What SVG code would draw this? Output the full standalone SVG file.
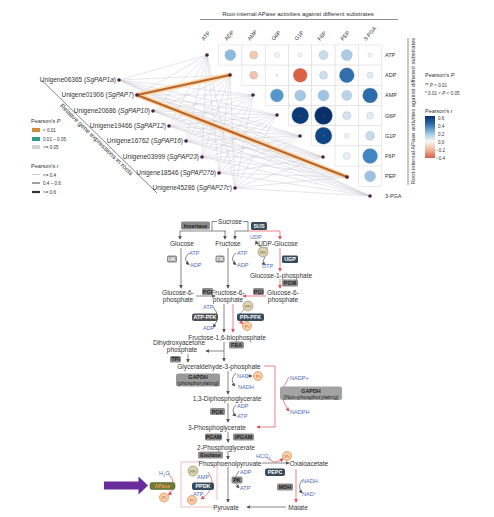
<svg xmlns="http://www.w3.org/2000/svg" width="494" height="517" viewBox="0 0 494 517">
<defs>
<style>
text{font-family:"Liberation Sans",Arial,sans-serif;fill:#333}
.gl{font-size:6.5px}
.ax{font-size:6.5px}
.sm{font-size:5.5px}
.xs{font-size:4.6px}
.cell{fill:#fff;stroke:#d8d8dc;stroke-width:0.5}
.dot{fill:#4a1f45}
.cor{stroke:#9aa6b2;stroke-width:0.3}
.mt{font-size:6.5px;text-anchor:middle;fill:#333}
.cf{font-size:5.6px;fill:#4a6db8}
.bx{fill:#8c8c8c}
.bd{fill:#374b5c}
.bt{font-size:5.4px;font-weight:bold;text-anchor:middle;fill:#222}
.bw{font-size:5.4px;font-weight:bold;text-anchor:middle;fill:#fff}
.g{fill:none;stroke:#555;stroke-width:0.7;marker-end:url(#ag)}
.gn{fill:none;stroke:#555;stroke-width:0.7}
.r{fill:none;stroke:#e0505a;stroke-width:0.7;marker-end:url(#ar)}
.rn{fill:none;stroke:#e0505a;stroke-width:0.7}
.pi{fill:#f8cfa8;stroke:#e08a4a;stroke-width:0.7}
.ppi{fill:#d9d3b2;stroke:#9c9470;stroke-width:0.7}
.pit{font-size:4.4px;text-anchor:middle;fill:#c0602a}
.ppt{font-size:4px;text-anchor:middle;fill:#6d6648}
</style>
<marker id="ag" viewBox="0 0 6 6" refX="5" refY="3" markerWidth="4" markerHeight="4" markerUnits="userSpaceOnUse" orient="auto"><path d="M0,0L6,3L0,6z" fill="#555"/></marker>
<marker id="ar" viewBox="0 0 6 6" refX="5" refY="3" markerWidth="4" markerHeight="4" markerUnits="userSpaceOnUse" orient="auto"><path d="M0,0L6,3L0,6z" fill="#e0505a"/></marker>
<linearGradient id="cbar" x1="0" y1="0" x2="0" y2="1">
<stop offset="0" stop-color="#08306b"/>
<stop offset="0.2" stop-color="#2f6fae"/>
<stop offset="0.42" stop-color="#9ecae1"/>
<stop offset="0.6" stop-color="#f7f7f7"/>
<stop offset="0.8" stop-color="#f4b89c"/>
<stop offset="1" stop-color="#d6604d"/>
</linearGradient>
</defs>
<rect width="494" height="517" fill="#fff"/>

<!-- correlation header -->
<g id="header">
<text x="298" y="16" text-anchor="middle" style="font-size:6px">Root-internal APase activities against different substrates</text>
<line x1="200" y1="19.5" x2="398" y2="19.5" stroke="#444" stroke-width="0.6"/>
<g class="sm">
<text transform="translate(204,41) rotate(-50)">ATP</text>
<text transform="translate(227,41) rotate(-50)">ADP</text>
<text transform="translate(250,41) rotate(-50)">AMP</text>
<text transform="translate(274,41) rotate(-50)">G6P</text>
<text transform="translate(297,41) rotate(-50)">G1P</text>
<text transform="translate(320,41) rotate(-50)">F6P</text>
<text transform="translate(343,41) rotate(-50)">PEP</text>
<text transform="translate(366,41) rotate(-50)">3-PGA</text>
</g>
</g>

<!-- matrix -->
<g id="matrix">
<rect class="cell" x="218.6" y="44.9" width="23.3" height="20.2"/><rect class="cell" x="241.9" y="44.9" width="23.3" height="20.2"/><rect class="cell" x="265.2" y="44.9" width="23.3" height="20.2"/><rect class="cell" x="288.5" y="44.9" width="23.3" height="20.2"/><rect class="cell" x="311.8" y="44.9" width="23.3" height="20.2"/><rect class="cell" x="335.1" y="44.9" width="23.3" height="20.2"/><rect class="cell" x="358.4" y="44.9" width="23.3" height="20.2"/>
<rect class="cell" x="241.9" y="65.1" width="23.3" height="20.2"/><rect class="cell" x="265.2" y="65.1" width="23.3" height="20.2"/><rect class="cell" x="288.5" y="65.1" width="23.3" height="20.2"/><rect class="cell" x="311.8" y="65.1" width="23.3" height="20.2"/><rect class="cell" x="335.1" y="65.1" width="23.3" height="20.2"/><rect class="cell" x="358.4" y="65.1" width="23.3" height="20.2"/>
<rect class="cell" x="265.2" y="85.3" width="23.3" height="20.2"/><rect class="cell" x="288.5" y="85.3" width="23.3" height="20.2"/><rect class="cell" x="311.8" y="85.3" width="23.3" height="20.2"/><rect class="cell" x="335.1" y="85.3" width="23.3" height="20.2"/><rect class="cell" x="358.4" y="85.3" width="23.3" height="20.2"/>
<rect class="cell" x="288.5" y="105.5" width="23.3" height="20.2"/><rect class="cell" x="311.8" y="105.5" width="23.3" height="20.2"/><rect class="cell" x="335.1" y="105.5" width="23.3" height="20.2"/><rect class="cell" x="358.4" y="105.5" width="23.3" height="20.2"/>
<rect class="cell" x="311.8" y="125.7" width="23.3" height="20.2"/><rect class="cell" x="335.1" y="125.7" width="23.3" height="20.2"/><rect class="cell" x="358.4" y="125.7" width="23.3" height="20.2"/>
<rect class="cell" x="335.1" y="145.9" width="23.3" height="20.2"/><rect class="cell" x="358.4" y="145.9" width="23.3" height="20.2"/>
<rect class="cell" x="358.4" y="166.1" width="23.3" height="20.2"/>
<!-- circles -->
<circle class="cor" cx="230.3" cy="55" r="5.5" fill="#8dbbe0"/>
<circle class="cor" cx="253.6" cy="55" r="4" fill="#f6c6ad"/>
<circle class="cor" cx="276.9" cy="55" r="2.5" fill="#f4f4f4"/>
<circle class="cor" cx="300.2" cy="55" r="2" fill="#f4f4f4"/>
<circle class="cor" cx="323.5" cy="55" r="4.5" fill="#cadcee"/>
<circle class="cor" cx="346.8" cy="55" r="5.5" fill="#aecbe6"/>
<circle class="cor" cx="370.1" cy="55" r="2" fill="#eef3f8"/>
<circle class="cor" cx="253.6" cy="75.2" r="4" fill="#f5c4ab"/>
<circle class="cor" cx="276.9" cy="75.2" r="0.8" fill="#ddd"/>
<circle class="cor" cx="300.2" cy="75.2" r="7" fill="#dc6043"/>
<circle class="cor" cx="323.5" cy="75.2" r="4" fill="#cddff0"/>
<circle class="cor" cx="346.8" cy="75.2" r="7.5" fill="#2f6fae"/>
<circle class="cor" cx="370.1" cy="75.2" r="3" fill="#e2ecf5"/>
<circle class="cor" cx="276.9" cy="95.4" r="6.5" fill="#5597cb"/>
<circle class="cor" cx="300.2" cy="95.4" r="5.5" fill="#a5c8e4"/>
<circle class="cor" cx="323.5" cy="95.4" r="5.5" fill="#9fc3e2"/>
<circle class="cor" cx="346.8" cy="95.4" r="5" fill="#b8d3ea"/>
<circle class="cor" cx="370.1" cy="95.4" r="7.5" fill="#2d6cab"/>
<circle class="cor" cx="300.2" cy="115.6" r="8.5" fill="#0c3c78"/>
<circle class="cor" cx="323.5" cy="115.6" r="9" fill="#08306b"/>
<circle class="cor" cx="346.8" cy="115.6" r="4" fill="#d4e3f0"/>
<circle class="cor" cx="370.1" cy="115.6" r="3.5" fill="#e3ecf5"/>
<circle class="cor" cx="323.5" cy="135.8" r="8.5" fill="#0f4786"/>
<circle class="cor" cx="346.8" cy="135.8" r="2.5" fill="#f2f5f8"/>
<circle class="cor" cx="370.1" cy="135.8" r="4.5" fill="#c8dbed"/>
<circle class="cor" cx="346.8" cy="156" r="3.5" fill="#e8eff6"/>
<circle class="cor" cx="370.1" cy="156" r="7.5" fill="#3f86c2"/>
<circle class="cor" cx="370.1" cy="176.2" r="5.5" fill="#9dc1e1"/>
<g style="font-size:4px;fill:#c04040" text-anchor="middle">
<text x="300.2" y="117.5" style="fill:#c04040">**</text>
<text x="323.5" y="117.5" style="fill:#c04040">**</text>
<text x="323.5" y="137.7" style="fill:#c04040">**</text>
<text x="346.8" y="77.1" style="fill:#c04040">*</text>
</g>
<g class="sm">
<text x="385" y="57">ATP</text>
<text x="385" y="77.2">ADP</text>
<text x="385" y="97.4">AMP</text>
<text x="385" y="117.6">G6P</text>
<text x="385" y="137.8">G1P</text>
<text x="385" y="158">F6P</text>
<text x="385" y="178.2">PEP</text>
<text x="385" y="198.4">3-PGA</text>
</g>
</g>

<!-- gene-metabolite connectors -->
<g id="connectors">
<path fill="none" stroke="#c6c8d0" stroke-width="0.45" d="M119 80L207 55M119 80L230 75M119 80L253 95M119 80L277 115M119 80L300 136M119 80L323 157M119 80L347 177M119 80L370 196
M137 95L207 55M137 95L253 95M137 95L277 115M137 95L300 136M137 95L323 157M137 95L370 196
M153 111L207 55M153 111L230 75M153 111L253 95M153 111L277 115M153 111L300 136M153 111L323 157M153 111L347 177M153 111L370 196
M169 126L207 55M169 126L230 75M169 126L253 95M169 126L277 115M169 126L300 136M169 126L323 157M169 126L347 177M169 126L370 196
M186 141L207 55M186 141L230 75M186 141L253 95M186 141L277 115M186 141L300 136M186 141L323 157M186 141L347 177M186 141L370 196
M202 157L207 55M202 157L230 75M202 157L253 95M202 157L277 115M202 157L300 136M202 157L323 157M202 157L347 177M202 157L370 196
M219 173L207 55M219 173L230 75M219 173L253 95M219 173L277 115M219 173L300 136M219 173L323 157M219 173L347 177M219 173L370 196
M235 188L207 55M235 188L230 75M235 188L253 95M235 188L277 115M235 188L300 136M235 188L323 157M235 188L347 177M235 188L370 196"/>
<path fill="none" stroke="#fbd6ad" stroke-width="5" stroke-linecap="round" d="M137 95L230 75M137 95L347 177"/>
<path fill="none" stroke="#b8662a" stroke-width="2.2" stroke-linecap="round" d="M137 95L230 75M137 95L347 177"/>
</g>

<!-- metabolite dots -->
<g id="met-dots">
<circle class="dot" cx="207" cy="55" r="1.8"/><circle class="dot" cx="230" cy="75" r="1.8"/><circle class="dot" cx="253" cy="95" r="1.8"/><circle class="dot" cx="277" cy="115" r="1.8"/><circle class="dot" cx="300" cy="136" r="1.8"/><circle class="dot" cx="323" cy="157" r="1.8"/><circle class="dot" cx="347" cy="177" r="1.8"/><circle class="dot" cx="370" cy="196" r="1.8"/>
</g>

<!-- genes -->
<g id="genes" class="gl">
<g id="g1"><circle class="dot" cx="119" cy="80" r="1.8"/><text x="116" y="82.2" text-anchor="end">Unigene06365 (<tspan font-style="italic">SgPAP1a</tspan>)</text></g>
<g id="g2"><circle class="dot" cx="137" cy="95" r="1.8"/><text x="134" y="97.2" text-anchor="end">Unigene01906 (<tspan font-style="italic">SgPAP7</tspan>)</text></g>
<g id="g3"><circle class="dot" cx="153" cy="111" r="1.8"/><text x="150" y="113.2" text-anchor="end">Unigene20686 (<tspan font-style="italic">SgPAP10</tspan>)</text></g>
<g id="g4"><circle class="dot" cx="169" cy="126" r="1.8"/><text x="166" y="128.2" text-anchor="end">Unigene19466 (<tspan font-style="italic">SgPAP12</tspan>)</text></g>
<g id="g5"><circle class="dot" cx="186" cy="141" r="1.8"/><text x="183" y="143.2" text-anchor="end">Unigene16762 (<tspan font-style="italic">SgPAP16</tspan>)</text></g>
<g id="g6"><circle class="dot" cx="202" cy="157" r="1.8"/><text x="199" y="159.2" text-anchor="end">Unigene03999 (<tspan font-style="italic">SgPAP23</tspan>)</text></g>
<g id="g7"><circle class="dot" cx="219" cy="173" r="1.8"/><text x="216" y="175.2" text-anchor="end">Unigene18546 (<tspan font-style="italic">SgPAP27b</tspan>)</text></g>
<g id="g8"><circle class="dot" cx="235" cy="188" r="1.8"/><text x="232" y="190.2" text-anchor="end">Unigene45286 (<tspan font-style="italic">SgPAP27c</tspan>)</text></g>
</g>

<!-- axes -->
<g id="axes">
<line x1="42" y1="80.5" x2="157" y2="193" stroke="#333" stroke-width="0.6"/>
<text class="ax" transform="translate(95,141) rotate(44.3)" text-anchor="middle">Relative gene expressions in roots</text>
<line x1="408" y1="38" x2="408" y2="185" stroke="#444" stroke-width="0.6"/>
<text transform="translate(415,111) rotate(-90)" text-anchor="middle" style="font-size:5.8px">Root-internal APase activities against different substrates</text>
</g>

<!-- left legend -->
<g id="legend-left" class="sm">
<text x="31" y="123">Pearson's <tspan font-style="italic">P</tspan></text>
<rect x="32" y="128" width="8" height="4" fill="#d08a3a"/><text x="43" y="132" class="xs">&lt; 0.01</text>
<rect x="32" y="137" width="8" height="4" fill="#2a9d8f"/><text x="43" y="141" class="xs">0.01 – 0.05</text>
<rect x="32" y="145" width="8" height="4" fill="#d3d3d3"/><text x="43" y="149" class="xs">&gt;= 0.05</text>
<text x="31" y="168">Pearson's <tspan font-style="italic">r</tspan></text>
<line x1="32" y1="174.5" x2="40" y2="174.5" stroke="#ccc" stroke-width="1"/><text x="43" y="176.5" class="xs">&lt;= 0.4</text>
<line x1="32" y1="183" x2="40" y2="183" stroke="#777" stroke-width="1.4"/><text x="43" y="185" class="xs">0.4 – 0.6</text>
<line x1="32" y1="192" x2="40" y2="192" stroke="#333" stroke-width="2.2"/><text x="43" y="194" class="xs">&gt;= 0.6</text>
</g>

<!-- right legend -->
<g id="legend-right">
<text x="425" y="77" style="font-size:5.5px">Pearson's <tspan font-style="italic">P</tspan></text>
<text x="425" y="87" class="xs">** <tspan font-style="italic">P</tspan> &lt; 0.01</text>
<text x="425" y="95" class="xs">*  0.01 &lt; <tspan font-style="italic">P</tspan> &lt; 0.05</text>
<text x="425" y="113" style="font-size:5.5px">Pearson's <tspan font-style="italic">r</tspan></text>
<rect x="425" y="116" width="10" height="42" fill="url(#cbar)"/>
<g class="xs">
<text x="438" y="120">0.6</text>
<text x="438" y="128">0.4</text>
<text x="438" y="136">0.2</text>
<text x="438" y="144">0.0</text>
<text x="436" y="151.5">−0.2</text>
<text x="436" y="159.5">−0.4</text>
</g>
</g>

<!-- ===== pathway ===== -->
<g id="pathway-lines">
<path class="gn" d="M217 221.5H212V231"/>
<path class="gn" d="M180 231H226"/>
<path class="g" d="M180 231V239"/>
<path class="g" d="M225 231V239"/>
<path class="gn" d="M243 221.5H248V231H235"/>
<path class="g" d="M235 231V239"/>
<path class="rn" d="M248 231H280"/>
<path class="r" d="M280 231V239"/>
<path class="g" d="M181 248V288"/>
<path class="g" d="M189 253Q182 259 189 264.5"/>
<path class="g" d="M228 248V288"/>
<path class="g" d="M236 253Q229 259 236 264.5"/>
<path class="g" d="M268 248Q258 249 256 241"/>
<path class="g" d="M265 256.5Q262 262 265 265"/>
<path class="r" d="M280 248V271"/>
<path class="r" d="M280 279V288"/>
<path class="g" d="M196 296H215"/>
<path class="r" d="M266 296H243"/>
<path class="g" d="M213 307Q222 317 213 327"/>
<path class="g" d="M224 304V332"/>
<path class="r" d="M233 304V332"/>
<path class="r" d="M244 309Q237 316 242.5 324"/>
<path class="g" d="M224 342V361"/>
<path class="g" d="M224 351H206"/>
<path class="g" d="M188 354V362"/>
<path class="rn" d="M264 366H275V427"/>
<path class="r" d="M275 427H257"/>
<path class="g" d="M228 371V394"/>
<path class="g" d="M236 373Q229 380 235 386"/>
<path class="g" d="M247 376H252"/>
<path class="r" d="M289 377Q276 395 289 411"/>
<path class="g" d="M228 403V422"/>
<path class="g" d="M236 405Q230 411 236 416"/>
<path class="g" d="M228 432V442"/>
<path class="g" d="M228 451V459"/>
<path class="g" d="M262 463H289"/>
<path class="r" d="M266 457Q275 466 283 458.5"/>
<path class="g" d="M228 467V502"/>
<path class="g" d="M239 471Q232 480 239 488"/>
<path class="r" d="M296 469V502"/>
<path class="g" d="M302 480Q297 487 302 493"/>
<path class="g" d="M286 507H247"/>
<path fill="none" stroke="#eba0a0" stroke-width="0.7" d="M200 462H181V507H214M217 462V500"/>
<path class="r" d="M208 472Q219 487 201 499"/>
<path class="r" d="M168 473Q179 485 168.5 495"/>
</g>

<g id="pathway-metabolites">
<text class="mt" x="230" y="223.5">Sucrose</text>
<text class="mt" x="182" y="245.5">Glucose</text>
<text class="mt" x="228" y="245.5">Fructose</text>
<text class="mt" x="278" y="245.5">UDP-Glucose</text>
<text class="mt" x="281" y="277.5">Glucose-1-phosphate</text>
<text class="mt" x="178" y="295">Glucose-6-</text><text class="mt" x="178" y="301.5">phosphate</text>
<text class="mt" x="228" y="295">Fructose-6-</text><text class="mt" x="228" y="301.5">phosphate</text>
<text class="mt" x="283" y="295">Glucose-6-</text><text class="mt" x="283" y="301.5">phosphate</text>
<text class="mt" x="227" y="339.5">Fructose-1,6-biophosphate</text>
<text class="mt" x="179" y="345">Dihydroxyacetone</text><text class="mt" x="182" y="351.5">phosphate</text>
<text class="mt" x="219" y="368.5">Glyceraldehyde-3-phosphate</text>
<text class="mt" x="227" y="400.5">1,3-Diphosphoglycerate</text>
<text class="mt" x="217" y="429.5">3-Phosphoglycerate</text>
<text class="mt" x="226" y="449.5">2-Phosphoglycerate</text>
<text class="mt" x="230" y="465.5">Phosphoenolpyruvate</text>
<text class="mt" x="309" y="466">Oxaloacetate</text>
<text class="mt" x="298" y="509.5">Malate</text>
<text class="mt" x="226" y="509.5">Pyruvate</text>
</g>

<g id="pathway-cofactors" class="cf">
<text x="189" y="255" class="cf">ATP</text><text x="190" y="267" class="cf">ADP</text>
<text x="237" y="255" class="cf">ATP</text><text x="237" y="267" class="cf">ADP</text>
<text x="250" y="239" class="cf">UDP</text><text x="262" y="268" class="cf">UTP</text>
<text x="203" y="309" class="cf">ATP</text><text x="203" y="330" class="cf">ADP</text>
<text x="237" y="378" class="cf">NAD<tspan baseline-shift="super" style="font-size:3.8px">+</tspan></text>
<text x="238" y="389" class="cf">NADH</text>
<text x="237" y="408" class="cf">ADP</text><text x="237" y="418" class="cf">ATP</text>
<text x="290" y="380" class="cf">NADP+</text>
<text x="290" y="414" class="cf">NADPH</text>
<text x="256" y="458" class="cf">HCO<tspan baseline-shift="sub" style="font-size:3.8px">3</tspan><tspan baseline-shift="super" style="font-size:3.8px">-</tspan></text>
<text x="240" y="474" class="cf">ADP</text><text x="240" y="490" class="cf">ATP</text>
<text x="302" y="483" class="cf">NADH</text>
<text x="302" y="496" class="cf">NAD<tspan baseline-shift="super" style="font-size:3.8px">+</tspan></text>
<text x="197" y="479" class="cf">AMP</text>
<text x="193" y="496" class="cf">ATP</text>
<text x="159" y="475" class="cf">H<tspan baseline-shift="sub" style="font-size:3.8px">2</tspan>O</text>
</g>

<g id="pathway-phosphates">
<circle class="ppi" cx="263" cy="252" r="5"/><text class="ppt" x="263" y="253.5">PPi</text>
<circle class="ppi" cx="248" cy="306" r="5"/><text class="ppt" x="248" y="307.5">PPi</text>
<circle class="pi" cx="247" cy="326" r="4.5"/><text class="pit" x="247" y="327.6">Pi</text>
<circle class="pi" cx="258" cy="376" r="4.5"/><text class="pit" x="258" y="377.6">Pi</text>
<circle class="pi" cx="287" cy="456" r="4.5"/><text class="pit" x="287" y="457.6">Pi</text>
<circle class="ppi" cx="193" cy="471" r="5"/><text class="ppt" x="193" y="472.5">PPi</text>
<circle class="pi" cx="192" cy="500" r="4.5"/><text class="pit" x="192" y="501.6">Pi</text>
<circle class="pi" cx="164" cy="497.5" r="4.5"/><text class="pit" x="164" y="499.1">Pi</text>
</g>

<g id="enzymes">
<g id="e-invertase"><rect class="bx" x="181" y="221.5" width="29" height="8" rx="1.5"/><text class="bt" x="195.5" y="227.5">Invertase</text></g>
<g id="e-sus"><rect class="bd" x="251" y="222" width="16" height="8" rx="1.5"/><text class="bw" x="259" y="228">SUS</text></g>
<g id="e-hk"><rect class="bx" x="167" y="255.5" width="10" height="7" rx="1.5"/><text class="bw" x="172" y="261">HK</text></g>
<g id="e-fk"><rect class="bx" x="215.5" y="255.5" width="9" height="7" rx="1.5"/><text class="bw" x="220" y="261">FK</text></g>
<g id="e-ugp"><rect class="bd" x="282" y="255.5" width="16" height="7.5" rx="1.5"/><text class="bw" x="290" y="261.3">UGP</text></g>
<g id="e-pgm"><rect class="bx" x="282" y="279.5" width="16" height="7" rx="1.5"/><text class="bt" x="290" y="285">PGM</text></g>
<g id="e-pgi1"><rect class="bx" x="202" y="288" width="11" height="7" rx="1.5"/><text class="bt" x="207.5" y="293.5">PGI</text></g>
<g id="e-pgi2"><rect class="bx" x="253" y="288" width="11" height="7" rx="1.5"/><text class="bt" x="258.5" y="293.5">PGI</text></g>
<g id="e-atppfk"><rect fill="#505050" x="192" y="313.5" width="26" height="7.5" rx="2"/><text class="bw" x="205" y="319.3">ATP-PFK</text></g>
<g id="e-ppipfk"><rect class="bd" x="237" y="313.5" width="27" height="7.5" rx="2"/><text class="bw" x="250.5" y="319.3">PPi-PFK</text></g>
<g id="e-fba"><rect class="bx" x="229" y="341.5" width="15" height="7" rx="1.5"/><text class="bt" x="236.5" y="347">FBA</text></g>
<g id="e-tpi"><rect class="bx" x="170" y="356" width="11" height="6.5" rx="1.5"/><text class="bt" x="175.5" y="361.3">TPI</text></g>
<g id="e-gapdh1"><rect fill="#9a9a9a" x="176" y="373.5" width="44" height="13" rx="2"/><text class="bt" x="198" y="379">GAPDH</text><text class="mt" x="198" y="385" style="font-size:5.4px;fill:#222">(phosphorylating)</text></g>
<g id="e-gapdh2"><rect fill="#a3a3a3" x="280" y="386.5" width="62" height="13.5" rx="2"/><text class="bt" x="311" y="392.5">GAPDH</text><text class="mt" x="311" y="398.5" style="font-size:5.6px;fill:#222">(Non-phosphorylating)</text></g>
<g id="e-pgk"><rect class="bx" x="210" y="408" width="15" height="7" rx="1.5"/><text class="bt" x="217.5" y="413.5">PGK</text></g>
<g id="e-pgam"><rect class="bx" x="205" y="433.5" width="17" height="7" rx="1.5"/><text class="bt" x="213.5" y="439">PGAM</text></g>
<g id="e-ipgam"><rect class="bx" x="233" y="433.5" width="21" height="7" rx="1.5"/><text class="bt" x="243.5" y="439">iPGAM</text></g>
<g id="e-enolase"><rect class="bx" x="198" y="451.5" width="25" height="7" rx="1.5"/><text class="bt" x="210.5" y="457">Enolase</text></g>
<g id="e-pepc"><rect class="bd" x="265" y="468.5" width="20" height="7.5" rx="2"/><text class="bw" x="275" y="474.3">PEPC</text></g>
<g id="e-pk"><rect class="bx" x="231.5" y="476.5" width="11" height="7" rx="1.5"/><text class="bt" x="237" y="482">PK</text></g>
<g id="e-mdh"><rect class="bx" x="277" y="483.5" width="16" height="7" rx="1.5"/><text class="bt" x="285" y="489">MDH</text></g>
<g id="e-ppdk"><rect class="bd" x="192" y="482.5" width="22" height="7.5" rx="2"/><text class="bw" x="203" y="488.3">PPDK</text></g>
<g id="e-apase"><rect fill="#6e7a3a" stroke="#4f5a24" stroke-width="0.5" x="150" y="482.5" width="25" height="7" rx="2"/><text x="162.5" y="488" text-anchor="middle" style="font-size:5px;font-weight:bold;fill:#e79a4a">APase</text></g>
</g>

<g id="highlight-arrow">
<path d="M104 481.5H138.5V476.5L148 485.5L138.5 494.5V489.5H104Z" fill="#6a2c9c"/>
</g>
</svg>
